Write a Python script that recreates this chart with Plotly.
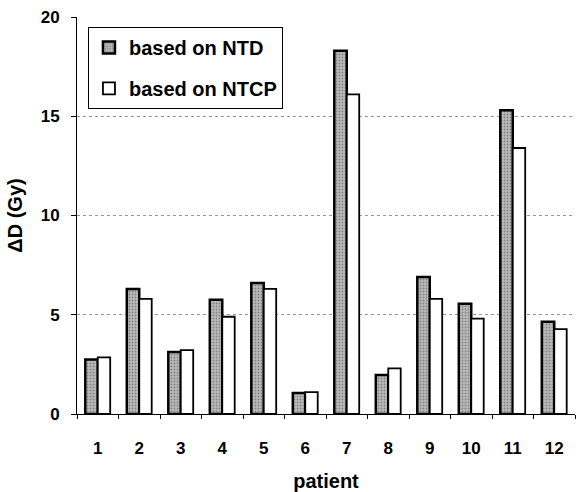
import plotly.graph_objects as go

patients = [str(i) for i in range(1, 13)]
ntd = [2.75, 6.3, 3.12, 5.75, 6.6, 1.06, 18.3, 1.96, 6.9, 5.55, 15.3, 4.65]
ntcp = [2.85, 5.8, 3.22, 4.9, 6.3, 1.1, 16.1, 2.3, 5.8, 4.8, 13.4, 4.28]

font_family = "Liberation Sans, Arial, sans-serif"

fig = go.Figure()
fig.add_trace(go.Bar(
    x=patients, y=ntd, name="based on NTD", legendgroup="a",
    marker=dict(color="#b0b0b0",
                pattern=dict(shape=".", fgcolor="#4a4a4a", bgcolor="#bcbcbc", size=3, solidity=0.35),
                line=dict(color="black", width=2.5)),
))
fig.add_trace(go.Bar(
    x=patients, y=ntcp, name="based on NTCP", legendgroup="b",
    marker=dict(color="white", line=dict(color="black", width=1.8)),
))

fig.update_layout(
    width=576, height=492,
    margin=dict(l=77, r=1, t=17, b=78),
    paper_bgcolor="white", plot_bgcolor="white",
    barmode="group", bargap=0.4, bargroupgap=0.0,
    font=dict(family=font_family, size=17, color="black", weight="bold"),
    showlegend=True,
    legend=dict(x=0.022, y=0.975, xanchor="left", yanchor="top",
                bgcolor="white", bordercolor="black", borderwidth=1,
                font=dict(size=20, weight="bold"),
                tracegroupgap=12, itemwidth=30),
    xaxis=dict(
        title=dict(text="patient", font=dict(size=20, weight="bold"), standoff=17),
        showline=True, linecolor="black", linewidth=1,
        ticks="outside", tickson="boundaries", ticklen=4, tickcolor="black",
        ticklabelstandoff=19,
        showgrid=False, range=[-0.5, 11.5],
        tickfont=dict(size=17, weight="bold"),
    ),
    yaxis=dict(
        title=dict(text="ΔD (Gy)", font=dict(size=20, weight="bold"), standoff=12),
        range=[0, 20], tickvals=[0, 5, 10, 15, 20],
        showline=True, linecolor="black", linewidth=1,
        ticks="outside", ticklen=5, tickcolor="black",
        ticklabelstandoff=8,
        showgrid=True, gridcolor="#999", griddash="dot", gridwidth=1,
        zeroline=False,
        tickfont=dict(size=17, weight="bold"),
    ),
)

fig.write_html("out.html")
